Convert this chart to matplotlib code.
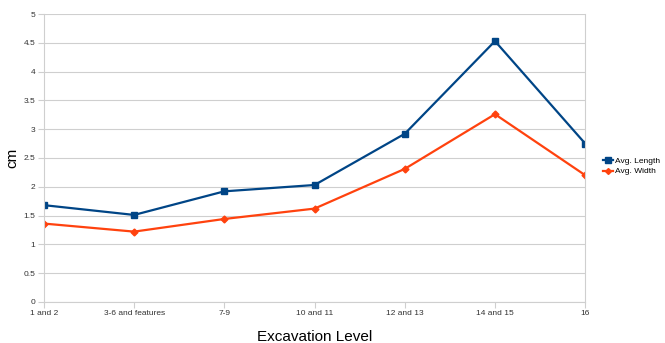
import matplotlib
matplotlib.use("Agg")
import matplotlib.pyplot as plt
from matplotlib.lines import Line2D

categories = ["1 and 2", "3-6 and features", "7-9", "10 and 11", "12 and 13", "14 and 15", "16"]
avg_length = [1.68, 1.51, 1.92, 2.03, 2.92, 4.53, 2.75]
avg_width = [1.36, 1.22, 1.44, 1.62, 2.31, 3.26, 2.20]
y_ticks = [0, 0.5, 1, 1.5, 2, 2.5, 3, 3.5, 4, 4.5, 5]

plt.rcParams["font.family"] = ["Liberation Sans", "DejaVu Sans"]

fig = plt.figure(figsize=(6.65, 3.43), dpi=100)
ax = fig.add_axes([0.066, 0.12, 0.814, 0.839])

x = list(range(len(categories)))
blue = "#004586"
orange = "#ff420e"
grid_c = "#cfcfcf"
ax.plot(x, avg_length, color=blue, lw=1.6, marker="s", ms=5, label="Avg. Length")
ax.plot(x, avg_width, color=orange, lw=1.6, marker="D", ms=3.5, label="Avg. Width")

ax.set_xlim(0, len(categories) - 1)
ax.set_ylim(0, 5)
ax.set_xticks(x)
ax.set_xticklabels(categories, fontsize=6)
ax.set_yticks(y_ticks)
ax.set_yticklabels([f"{v:g}" for v in y_ticks], fontsize=6)
ax.tick_params(axis="both", length=4, width=0.8, color=grid_c, pad=2, labelcolor="#333333")
ax.grid(axis="y", color=grid_c, lw=0.8)
for side in ["left", "right", "bottom"]:
    ax.spines[side].set_color(grid_c)
    ax.spines[side].set_linewidth(0.8)
ax.spines["top"].set_visible(False)
ax.set_axisbelow(True)

ax.set_xlabel("Excavation Level", fontsize=11)
ax.xaxis.label.set_va("center")
ax.xaxis.set_label_coords(0.5, -0.122)
ax.set_ylabel("cm", fontsize=11)
ax.yaxis.label.set_va("center")
ax.yaxis.set_label_coords(-0.059, 0.5)

handles = [
    Line2D([0], [0], color=blue, lw=1.6, marker="s", ms=4),
    Line2D([0], [0], color=orange, lw=1.6, marker="D", ms=3),
]
fig.legend(handles, ["Avg. Length", "Avg. Width"], loc="center left",
           bbox_to_anchor=(0.895, 0.515), frameon=False, fontsize=6,
           handlelength=1.2, handletextpad=0.3, labelspacing=0.3)

fig.savefig("out.png", dpi=100)
